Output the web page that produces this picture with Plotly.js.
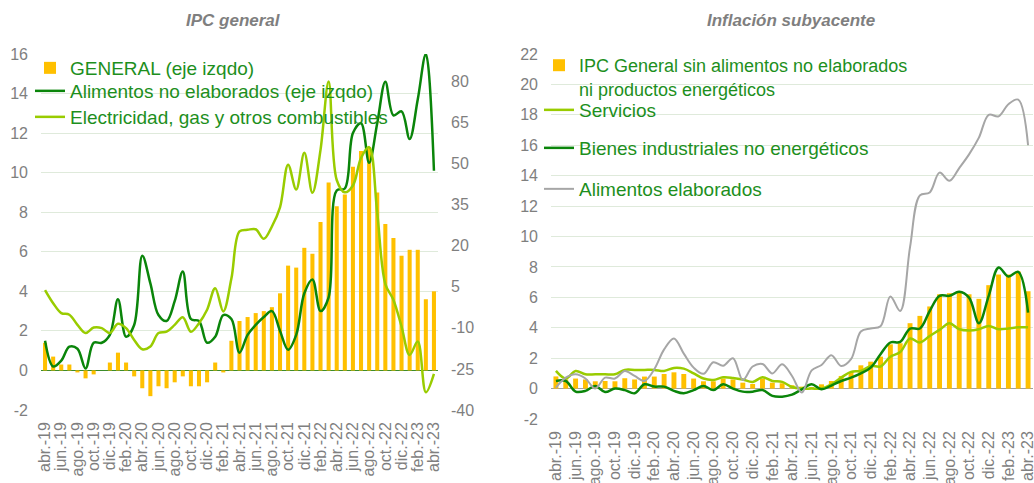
<!DOCTYPE html>
<html><head><meta charset="utf-8">
<script src="https://cdn.plot.ly/plotly-3.0.1.min.js"></script>
<style>html,body{margin:0;padding:0;background:#fff}#chart{width:1034px;height:483px}</style>
</head><body><div id="chart"></div>
<script>
const meses = ["abr.-19","may.-19","jun.-19","jul.-19","ago.-19","sep.-19","oct.-19","nov.-19","dic.-19",
"ene.-20","feb.-20","mar.-20","abr.-20","may.-20","jun.-20","jul.-20","ago.-20","sep.-20","oct.-20","nov.-20","dic.-20",
"ene.-21","feb.-21","mar.-21","abr.-21","may.-21","jun.-21","jul.-21","ago.-21","sep.-21","oct.-21","nov.-21","dic.-21",
"ene.-22","feb.-22","mar.-22","abr.-22","may.-22","jun.-22","jul.-22","ago.-22","sep.-22","oct.-22","nov.-22","dic.-22",
"ene.-23","feb.-23","mar.-23","abr.-23"];
const etiquetas = meses.filter((m, i) => i % 2 === 0);

// Panel izquierdo: IPC general
const general = [1.4,0.7,0.3,0.3,-0.1,-0.4,-0.2,0,0.4,0.9,0.4,-0.3,-0.9,-1.3,-0.8,-0.9,-0.6,-0.3,-0.8,-0.8,-0.6,0.4,-0.1,
1.5,2.5,2.7,2.9,3.0,3.2,3.9,5.3,5.2,6.2,5.9,7.5,9.5,8.3,8.9,10.3,11.1,11.3,9.0,7.4,6.7,5.8,6.1,6.1,3.6,4.0];
const alimentosNoElab = [1.5,0.2,0.5,1.2,1.1,0.1,1.4,1.4,1.8,3.6,1.7,2.3,5.8,4.4,2.8,2.5,3.5,5.0,2.6,2.5,1.4,1.7,2.8,
2.6,0.9,1.8,2.3,2.7,3.0,2.0,1.05,1.8,3.9,4.6,3.0,3.7,9.1,9.2,12.0,12.5,10.5,12.5,14.6,12.9,13.1,11.7,13.7,16.0,10.1];
const electricidad = [3.8,-1.0,-4.6,-5.2,-8.9,-11.9,-9.9,-10.1,-11.9,-8.5,-10.1,-14.4,-17.8,-16.8,-11.9,-11.4,-8.9,-6.1,-11.4,-8.3,-3.4,4.5,-4.0,
8,25.2,25.8,26.0,22.5,27,34,49.6,40.5,53.9,39.3,55,80,44,39.5,42,52,56,32,6,0.2,-9.5,-19.9,-15.0,-33.5,-26.8];

// Panel derecho: Inflación subyacente
const subyacente = [0.8,0.6,0.66,0.6,0.48,0.5,0.48,0.68,0.6,0.79,0.79,0.96,1.07,0.96,0.66,0.48,0.48,0.66,0.6,0.39,0.3,0.66,0.39,
0.35,0.22,0.13,0.1,0.28,0.5,0.83,1.1,1.53,1.77,2.1,2.91,2.98,4.3,4.78,5.4,6.2,6.27,6.3,6.2,5.9,6.8,7.5,7.5,7.7,6.4];
const servicios = [1.16,0.66,1.16,0.94,0.94,0.94,0.94,1.23,1.23,1.23,1.23,1.16,1.36,1.31,1.0,0.66,0.57,0.74,0.7,0.6,0.44,0.74,0.5,
0.44,0.1,0.0,0.0,0.0,0.28,0.72,1.1,1.16,1.49,1.45,2.1,2.4,3.29,3.03,3.46,3.86,4.3,3.9,3.82,3.9,4.12,3.9,3.95,4.03,4.03];
const bienesInd = [0.5,0.5,-0.2,-0.15,0.17,-0.23,0,-0.1,-0.31,0.28,0.13,0.13,-0.15,-0.31,-0.1,0.17,-0.1,0.28,0,-0.2,-0.2,-0.1,-0.48,
-0.53,-0.4,-0.05,0.28,-0.05,0.2,0.5,0.72,1.0,1.38,2.26,3.03,3.07,3.95,3.95,5.1,6.1,6.1,6.36,5.98,4.3,6.1,7.96,7.37,7.67,5.0];
const alimentosElab = [0.07,0.72,0.94,0.66,0.0,0.72,0.66,1.16,0.83,0.5,1.27,2.58,3.3,2.3,1.38,0.97,1.73,1.5,2.0,0.56,1.45,1.62,1.0,
1.6,0.83,-0.26,1.2,1.55,2.2,1.49,1.93,3.75,3.95,4.1,6.05,5.1,9.3,12.7,12.9,14.2,13.66,14.5,15.4,16.5,18.0,17.9,18.7,19.0,16.0];

// Ticks de los ejes
const ejeIzqTicks = [-2,0,2,4,6,8,10,12,14,16];
const ejeDerTicks = [-40,-25,-10,5,20,35,50,65,80];
const ejeSubTicks = [-2,0,2,4,6,8,10,12,14,16,18,20,22];

const W = 1034, H = 483;
const px = v => v / W;
const py = v => 1 - v / H;
const txt = arr => arr.map(v => String(v));

const AMARILLO = '#ffc000', VERDE = '#0a850a', VERDE_CLARO = '#99cc00', GRIS = '#a6a6a6';
const TXT = '#7f7f7f', LEG = '#1d8f1d', GRID = '#dfeadb';
const FAM = 'Liberation Sans, Arial, sans-serif';

const spline = {shape:'spline', smoothing:1};

const data = [
  {type:'bar', x:meses, y:general, xaxis:'x', yaxis:'y', name:'GENERAL (eje izqdo)',
   marker:{color:AMARILLO}, legend:'legend'},
  {type:'scatter', mode:'lines', x:meses, y:alimentosNoElab, xaxis:'x', yaxis:'y',
   name:'Alimentos no elaborados (eje izqdo)', line:Object.assign({color:VERDE, width:2.5}, spline), legend:'legend2'},
  {type:'scatter', mode:'lines', x:meses, y:electricidad, xaxis:'x', yaxis:'y2',
   name:'Electricidad, gas y otros combustibles', line:Object.assign({color:VERDE_CLARO, width:2.5}, spline), legend:'legend3'},
  {type:'bar', x:meses, y:subyacente, xaxis:'x2', yaxis:'y3',
   name:'IPC General sin alimentos no elaborados<br>ni productos energéticos', marker:{color:AMARILLO}, legend:'legend4'},
  {type:'scatter', mode:'lines', x:meses, y:servicios, xaxis:'x2', yaxis:'y3',
   name:'Servicios', line:Object.assign({color:VERDE_CLARO, width:2.5}, spline), legend:'legend5'},
  {type:'scatter', mode:'lines', x:meses, y:bienesInd, xaxis:'x2', yaxis:'y3',
   name:'Bienes industriales no energéticos', line:Object.assign({color:VERDE, width:2.5}, spline), legend:'legend6'},
  {type:'scatter', mode:'lines', x:meses, y:alimentosElab, xaxis:'x2', yaxis:'y3',
   name:'Alimentos elaborados', line:Object.assign({color:GRIS, width:2}, spline), legend:'legend7'}
];

const tickFont = {family:FAM, size:16, color:TXT};
const xCommon = {type:'category', tickmode:'array', tickvals:etiquetas, ticktext:etiquetas, tickangle:-90,
  tickfont:tickFont, showgrid:false, showline:false, zeroline:false, ticks:'', range:[-0.5, 48.5],
  ticklabelstandoff:8, fixedrange:true};

function leg(xp, yp, anchor, size) {
  return {x:px(xp), y:py(yp), xanchor:'left', yanchor:anchor || 'middle', bgcolor:'rgba(0,0,0,0)',
    borderwidth:0, font:{family:FAM, size:size || 19, color:LEG}, valign:'top', itemwidth:30};
}

const layout = {
  width:W, height:H, margin:{l:0, r:0, t:0, b:0}, paper_bgcolor:'#fff', plot_bgcolor:'#fff',
  showlegend:true, bargap:0.5,
  font:{family:FAM},
  xaxis:Object.assign({}, xCommon, {domain:[px(41), px(438)], anchor:'y'}),
  yaxis:{domain:[py(410), py(54)], range:[-2,16], tickmode:'array', tickvals:ejeIzqTicks, ticktext:txt(ejeIzqTicks),
    anchor:'x', gridcolor:GRID, gridwidth:1,
    zeroline:true, zerolinecolor:'#3c8c2c', zerolinewidth:1.5, tickfont:tickFont, showline:false,
    ticklabelstandoff:12, fixedrange:true},
  yaxis2:{overlaying:'y', side:'right', anchor:'x', range:[-40,90], tickmode:'array', tickvals:ejeDerTicks,
    ticktext:txt(ejeDerTicks),
    showgrid:false, zeroline:false, tickfont:tickFont, showline:false, ticklabelstandoff:12, fixedrange:true},
  xaxis2:Object.assign({}, xCommon, {domain:[px(551), px(1033)], anchor:'y3'}),
  yaxis3:{domain:[py(419), py(54)], range:[-2,22], tickmode:'array', tickvals:ejeSubTicks, ticktext:txt(ejeSubTicks),
    anchor:'x2', gridcolor:GRID, gridwidth:1,
    zeroline:true, zerolinecolor:'#a0a0a0', zerolinewidth:1.5, tickfont:tickFont, showline:false,
    ticklabelstandoff:12, fixedrange:true},
  legend:leg(30, 68),
  legend2:leg(30, 91),
  legend3:leg(30, 117),
  legend4:leg(539, 47, 'top', 18),
  legend5:leg(539, 110),
  legend6:leg(539, 148),
  legend7:leg(539, 189),
  annotations:[
    {text:'<b><i>IPC general</i></b>', x:px(233), y:py(20), xref:'paper', yref:'paper', showarrow:false,
     xanchor:'center', yanchor:'middle', font:{family:FAM, size:17, color:TXT}},
    {text:'<b><i>Inflación subyacente</i></b>', x:px(791), y:py(20), xref:'paper', yref:'paper', showarrow:false,
     xanchor:'center', yanchor:'middle', font:{family:FAM, size:17, color:TXT}}
  ]
};

Plotly.newPlot('chart', data, layout, {displayModeBar:false, staticPlot:true});
</script></body></html>
